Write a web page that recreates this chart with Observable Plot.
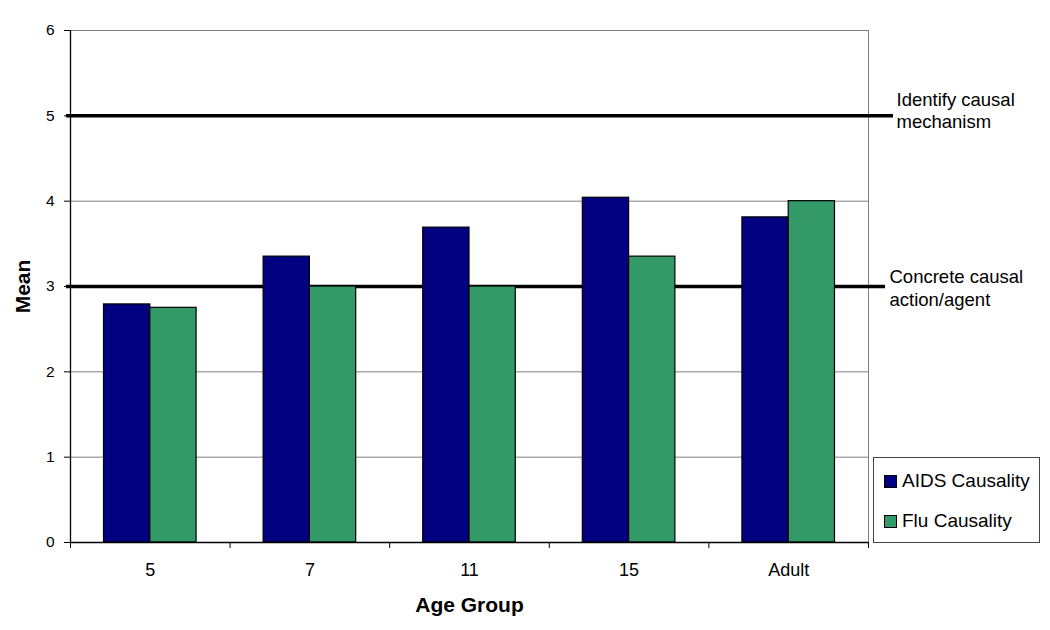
<!DOCTYPE html>
<html>
<head>
<meta charset="utf-8">
<script src="https://cdn.jsdelivr.net/npm/d3@7"></script>
<script src="https://cdn.jsdelivr.net/npm/@observablehq/plot@0.6"></script>
<style>
  html, body { margin: 0; padding: 0; background: #fff; }
  #wrap { position: relative; width: 1050px; height: 630px; font-family: "Liberation Sans", Arial, sans-serif; }
  #legend { position: absolute; left: 873px; top: 457px; width: 165px; height: 84px; border: 1px solid #444; background: #fff; box-sizing: content-box; }
  .item { position: absolute; left: 10px; display: flex; align-items: center; font-size: 19px; color: #000; }
  .sw { width: 11px; height: 11px; border: 1px solid #000; margin-right: 5px; }
</style>
</head>
<body>
<div id="wrap"></div>
<script>
const ages = ["5", "7", "11", "15", "Adult"];
const aids = [2.79, 3.35, 3.69, 4.04, 3.81];
const flu = [2.75, 3.0, 3.0, 3.35, 4.0];
const seriesNames = ["AIDS Causality", "Flu Causality"];
const seriesColors = ["#000080", "#339966"];
const refValues = [5, 3];
const refLabels = ["Identify causal\nmechanism", "Concrete causal\naction/agent"];
const yTicks = [0, 1, 2, 3, 4, 5, 6];

const rows = [];
ages.forEach((a, i) => {
  rows.push({i, age: a, s: 0, series: seriesNames[0], value: aids[i]});
  rows.push({i, age: a, s: 1, series: seriesNames[1], value: flu[i]});
});

const font = "'Liberation Sans', Arial, sans-serif";

const chart = Plot.plot({
  width: 1050,
  height: 630,
  marginLeft: 70,
  marginRight: 182,
  marginTop: 30,
  marginBottom: 88,
  style: {fontFamily: font, fontSize: "16px", color: "#000", background: "#fff"},
  x: {type: "linear", domain: [0, ages.length]},
  y: {domain: [0, 6]},
  color: {domain: seriesNames, range: seriesColors},
  marks: [
    Plot.ruleY([1, 2, 4, 6], {stroke: "#808080", strokeWidth: 1}),
    Plot.ruleX([ages.length], {stroke: "#808080", strokeWidth: 1}),
    Plot.ruleY([refValues[0]], {stroke: "#000", strokeWidth: 3.5, insetLeft: -4, insetRight: -25}),
    Plot.ruleY([refValues[1]], {stroke: "#000", strokeWidth: 3.5, insetLeft: -4, insetRight: -17}),
    Plot.rectY(rows, {
      x1: d => d.i + (d.s === 0 ? 0.21 : 0.5),
      x2: d => d.i + (d.s === 0 ? 0.5 : 0.79),
      y: "value",
      fill: "series",
      stroke: "#000",
      strokeWidth: 1.2
    }),
    Plot.ruleX([0], {stroke: "#000", strokeWidth: 1.3}),
    Plot.ruleY([0], {stroke: "#000", strokeWidth: 1.3}),
    Plot.axisY({ticks: yTicks, tickSize: 6, tickPadding: 10, fontSize: 15.5, label: null, tickFormat: d3.format("d")}),
    Plot.axisX({ticks: d3.range(0, ages.length + 1), tickSize: 6, tickFormat: () => "", label: null}),
    Plot.axisX({ticks: ages.map((a, i) => i + 0.5), tickSize: 0, tickPadding: 21, fontSize: 18, label: null, tickFormat: v => ages[Math.floor(v)]}),
    Plot.text([refLabels[0]], {frameAnchor: "right", y: () => refValues[0], dx: 28, dy: -6, textAnchor: "start", lineAnchor: "middle", lineHeight: 1.22, fontSize: 18.5, fill: "#000"}),
    Plot.text([refLabels[1]], {frameAnchor: "right", y: () => refValues[1], dx: 21, dy: 1, textAnchor: "start", lineAnchor: "middle", lineHeight: 1.22, fontSize: 18.5, fill: "#000"}),
    Plot.text(["Mean"], {frameAnchor: "left", dx: -47, rotate: -90, textAnchor: "middle", lineAnchor: "middle", fontSize: 21, fontWeight: "bold", fill: "#000"}),
    Plot.text(["Age Group"], {frameAnchor: "bottom", dy: 63, textAnchor: "middle", lineAnchor: "middle", fontSize: 21, fontWeight: "bold", fill: "#000"})
  ]
});

const wrap = document.getElementById("wrap");
wrap.appendChild(chart);

const legend = document.createElement("div");
legend.id = "legend";
seriesNames.forEach((name, k) => {
  const item = document.createElement("div");
  item.className = "item";
  item.style.top = (k === 0 ? 12 : 52) + "px";
  const sw = document.createElement("div");
  sw.className = "sw";
  sw.style.background = seriesColors[k];
  const t = document.createElement("span");
  t.textContent = name;
  item.appendChild(sw);
  item.appendChild(t);
  legend.appendChild(item);
});
wrap.appendChild(legend);
</script>
</body>
</html>
